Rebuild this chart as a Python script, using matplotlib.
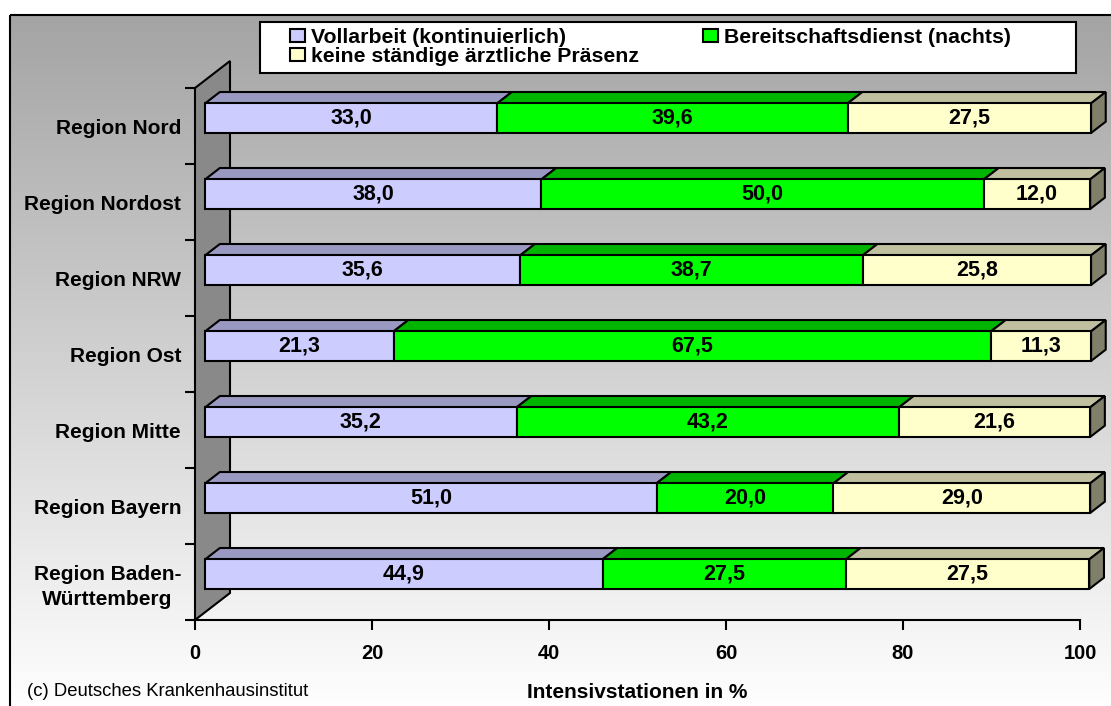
import numpy as np
import matplotlib.pyplot as plt
from matplotlib.patches import Polygon, Rectangle, Patch

regions = ["Region Nord", "Region Nordost", "Region NRW", "Region Ost",
           "Region Mitte", "Region Bayern", "Region Baden-\nWürttemberg"]
vollarbeit = [33.0, 38.0, 35.6, 21.3, 35.2, 51.0, 44.9]
bereitschaft = [39.6, 50.0, 38.7, 67.5, 43.2, 20.0, 27.5]
keine = [27.5, 12.0, 25.8, 11.3, 21.6, 29.0, 27.5]
series_names = ["Vollarbeit (kontinuierlich)", "Bereitschaftsdienst (nachts)",
                "keine ständige ärztliche Präsenz"]
xticks = [0, 20, 40, 60, 80, 100]

front_cols = ["#CCCCFF", "#00FF00", "#FFFFCC"]
top_cols = ["#9999C2", "#00B400", "#C0C0A0"]
side_cols = ["#6B6B99", "#008000", "#80806A"]

plt.rcParams['font.family'] = ['Liberation Sans', 'DejaVu Sans']

W, H = 1111, 706
fig = plt.figure(figsize=(W / 100, H / 100), dpi=100)

# hintergrund mit verlauf und rahmen
bg = fig.add_axes([0, 0, 1, 1], zorder=-10)
bg.set_xlim(0, W)
bg.set_ylim(H, 0)
bg.axis("off")
grad = np.linspace(0, 1, 256).reshape(-1, 1)
bg.imshow(grad, cmap=plt.matplotlib.colors.LinearSegmentedColormap.from_list(
    "g", ["#A4A4A4", "#FFFFFF"]), extent=[10, W + 5, H + 5, 15], aspect="auto")
bg.add_patch(Rectangle((10, 15), W, H, fill=False, ec="black", lw=1.5))

# hauptachse = vordere ebene
x0, x1, yb, yt = 195, 1080, 620, 88
ax = fig.add_axes([x0 / W, 1 - yb / H, (x1 - x0) / W, (yb - yt) / H])
ax.set_facecolor("none")
ax.set_xlim(0, 100)
ax.set_ylim(0, 7)

wall_dx = 35 / ((x1 - x0) / 100)
wall_dy = 27 / ((yb - yt) / 7)
f0, f1 = 0.29, 0.71
bar_h = 0.39

ax.add_patch(Polygon([(0, 0), (0, 7), (wall_dx, 7 + wall_dy), (wall_dx, wall_dy)],
                     closed=True, fc="#898989", ec="black", lw=1.5, clip_on=False, zorder=1))

n = len(regions)
data = [vollarbeit, bereitschaft, keine]
for i in range(n):
    yc = n - 0.5 - i
    ybot, ytop = yc - bar_h / 2, yc + bar_h / 2
    left = 0
    for s in range(3):
        w = data[s][i]
        right = left + w
        # deckflaeche
        ax.add_patch(Polygon([(left + f0 * wall_dx, ytop + f0 * wall_dy),
                              (right + f0 * wall_dx, ytop + f0 * wall_dy),
                              (right + f1 * wall_dx, ytop + f1 * wall_dy),
                              (left + f1 * wall_dx, ytop + f1 * wall_dy)],
                             closed=True, fc=top_cols[s], ec="black", lw=1.5,
                             clip_on=False, zorder=2))
        if s == 2:
            ax.add_patch(Polygon([(right + f0 * wall_dx, ybot + f0 * wall_dy),
                                  (right + f0 * wall_dx, ytop + f0 * wall_dy),
                                  (right + f1 * wall_dx, ytop + f1 * wall_dy),
                                  (right + f1 * wall_dx, ybot + f1 * wall_dy)],
                                 closed=True, fc=side_cols[s], ec="black", lw=1.5,
                                 clip_on=False, zorder=2))
        ax.add_patch(Rectangle((left + f0 * wall_dx, ybot + f0 * wall_dy), w, bar_h,
                               fc=front_cols[s], ec="black", lw=1.5, clip_on=False, zorder=3))
        ax.text(left + w / 2 + f0 * wall_dx, yc + f0 * wall_dy, f"{w:.1f}".replace(".", ","),
                ha="center", va="center", fontsize=15.5, fontweight="bold", zorder=4)
        left = right

for sp in ["top", "right", "left"]:
    ax.spines[sp].set_visible(False)
ax.spines["bottom"].set_linewidth(1.5)

ax.set_yticks(range(n + 1))
ax.set_yticklabels([])
ax.set_yticks([n - 0.5 - i for i in range(n)], minor=True)
ax.set_yticklabels(regions, minor=True, fontsize=15, fontweight="bold",
                   multialignment="center", linespacing=1.4)
ax.tick_params(axis="y", which="major", length=7, width=1.5)
ax.tick_params(axis="y", which="minor", length=0, pad=10)

ax.set_xticks(xticks)
ax.set_xticklabels([str(t) for t in xticks], fontsize=14.5, fontweight="bold")
ax.tick_params(axis="x", length=7, width=1.5, pad=10)

ax.set_xlabel("Intensivstationen in %", fontsize=15, fontweight="bold", labelpad=15)

fig.text(27 / W, 1 - 692 / H, "(c) Deutsches Krankenhausinstitut", fontsize=13.3,
         ha="left", va="center")

# legende
fig.add_artist(Rectangle((260 / W, 1 - 73 / H), (1076 - 260) / W, (73 - 22) / H,
                         transform=fig.transFigure, fc="white", ec="black", lw=1.5))
handles = [Patch(fc=front_cols[k], ec="black", lw=1.5) for k in range(3)]
order = [0, 2, 1]
fig.legend([handles[k] for k in order], [series_names[k] for k in order],
           loc="upper left", bbox_to_anchor=(290 / W, 1 - 28 / H), ncol=2,
           frameon=False, handlelength=0.7, handleheight=0.55, handletextpad=0.3,
           columnspacing=3.0, labelspacing=0.0, borderpad=0, borderaxespad=0,
           prop={"size": 15.3, "weight": "bold"})

fig.savefig("out.png", dpi=100)
